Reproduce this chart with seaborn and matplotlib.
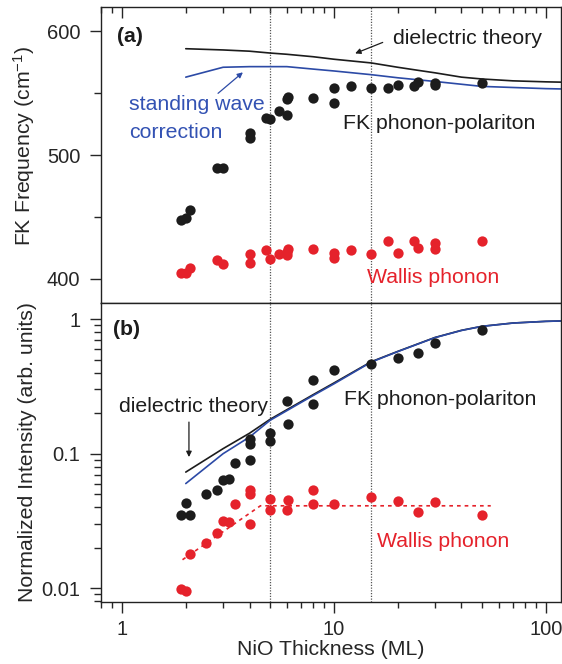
import matplotlib
matplotlib.use("Agg")
import matplotlib.pyplot as plt
import seaborn as sns
import numpy as np
from matplotlib.ticker import LogLocator, NullFormatter, FixedLocator, FixedFormatter, MultipleLocator

# ---------------- data ----------------
# (a) FK frequency
fk_freq_x = [1.9, 2.0, 2.1, 2.8, 3.0, 4.0, 4.0, 4.8, 5.0, 5.5, 6.0, 6.1, 6.0, 8.0, 10, 10, 12, 15, 18, 20, 24, 25, 30, 30, 50]
fk_freq_y = [447.6, 448.7, 455.7, 489.7, 489.7, 517.6, 513.9, 529.7, 529.4, 536.0, 532.5, 546.7, 545.0, 546.2,
             554.3, 541.8, 555.9, 554.3, 554.0, 556.4, 555.9, 559.4, 558.0, 556.4, 558.6]
wallis_freq_x = [1.9, 2.0, 2.1, 2.8, 3.0, 4.0, 4.0, 4.8, 5.0, 5.5, 6.0, 6.1, 6.0, 8.0, 10, 10, 12, 15, 18, 20, 24, 25, 30, 30, 50]
wallis_freq_y = [404.5, 404.5, 408.6, 415.3, 412.1, 420.2, 412.6, 423.4, 415.8, 420.2, 418.8, 424.2, 421.5, 423.7,
                 421.0, 416.7, 423.4, 420.2, 430.1, 421.0, 430.1, 424.7, 429.0, 424.2, 430.1]
diel_freq_x = [2, 3, 4, 5, 6, 8, 10, 15, 20, 25, 30, 40, 50, 70, 100, 130]
diel_freq_y = [586.0, 585.0, 584.0, 582.5, 581.5, 579.5, 577.5, 574.5, 571.0, 568.5, 566.5, 563.0, 561.5, 560.0, 559.2, 558.8]
sw_freq_x = [2, 3, 4, 5, 6, 8, 10, 15, 20, 30, 50, 100, 130]
sw_freq_y = [563.0, 571.0, 571.5, 571.5, 571.5, 569.5, 568.0, 565.0, 562.5, 559.5, 555.5, 553.7, 553.3]

# (b) normalized intensity
fk_int_x = [1.9, 2.0, 2.1, 2.5, 2.8, 3.0, 3.2, 3.4, 4, 4, 4, 5, 5, 6, 6.1, 8, 8, 10, 15, 20, 25, 30, 50]
fk_int_y = [0.0348, 0.043, 0.0352, 0.0499, 0.054, 0.0633, 0.0652, 0.0857, 0.0892, 0.1187, 0.129, 0.142, 0.124,
            0.246, 0.167, 0.355, 0.232, 0.416, 0.467, 0.517, 0.563, 0.668, 0.834]
wallis_int_x = [1.9, 2.0, 2.1, 2.5, 2.8, 3.0, 3.2, 3.4, 4, 4, 4, 5, 5, 6.1, 6, 8, 8, 10, 15, 20, 25, 30, 50]
wallis_int_y = [0.00993, 0.0095, 0.0179, 0.0218, 0.0257, 0.0316, 0.031, 0.042, 0.0534, 0.0499, 0.0298, 0.0463,
                0.0379, 0.045, 0.0379, 0.0534, 0.0425, 0.0425, 0.0476, 0.0444, 0.0368, 0.0435, 0.0348]
diel_int_x = [2, 3, 4, 5, 8, 10, 15, 20, 30, 40, 50, 70, 100, 130]
diel_int_y = [0.073, 0.109, 0.142, 0.180, 0.275, 0.335, 0.482, 0.575, 0.730, 0.825, 0.884, 0.935, 0.962, 0.972]
sw_int_x = [2, 3, 4, 5, 8, 10, 15, 20, 30, 40, 50, 70, 100, 130]
sw_int_y = [0.060, 0.100, 0.133, 0.177, 0.271, 0.330, 0.479, 0.573, 0.728, 0.823, 0.883, 0.934, 0.962, 0.972]
wallis_fit_x = [1.93, 4.5, 55]
wallis_fit_y = [0.0163, 0.041, 0.041]

guide_x = [5, 15]
x_ticks = [1, 10, 100]
x_tick_labels = ["1", "10", "100"]
freq_ticks = [400, 500, 600]
int_ticks = [0.01, 0.1, 1]
int_tick_labels = ["0.01", "0.1", "1"]

# ---------------- style ----------------
sns.set_theme(style="ticks")
plt.rcParams["font.family"] = ["Liberation Sans", "DejaVu Sans"]
plt.rcParams["mathtext.fontset"] = "custom"
plt.rcParams["mathtext.rm"] = "Liberation Sans"
plt.rcParams["mathtext.it"] = "Liberation Sans:italic"

BLACK = "#1c1c1c"
RED = "#e5222b"
BLUE = "#2c4aa6"
BLUE_TXT = "#3352b3"
FS = 15.3
TFS = 14.5

fig = plt.figure(figsize=(5.62, 6.64), dpi=100)
W, H = 562, 664
left, right = 101, 561
ya_top, mid, yb_bot = 6.7, 303.3, 601.7
ax_a = fig.add_axes([left / W, 1 - mid / H, (right - left) / W, (mid - ya_top) / H])
ax_b = fig.add_axes([left / W, 1 - yb_bot / H, (right - left) / W, (yb_bot - mid) / H], sharex=ax_a)

for ax in (ax_a, ax_b):
    ax.set_xscale("log")
    for s in ax.spines.values():
        s.set_linewidth(1.0)
        s.set_color("#222222")
ax_b.set_yscale("log")
ax_a.set_xlim(0.796, 118)
ax_a.set_ylim(380, 620)
ax_b.set_ylim(0.00795, 1.31)

# guide lines
for ax in (ax_a, ax_b):
    for gx in guide_x:
        ax.axvline(gx, color="#555555", lw=0.9, ls=(0, (1, 1.2)), zorder=1)

# ---- panel a ----
sns.lineplot(x=diel_freq_x, y=diel_freq_y, ax=ax_a, color=BLACK, lw=1.2, estimator=None, sort=False)
sns.lineplot(x=sw_freq_x, y=sw_freq_y, ax=ax_a, color=BLUE, lw=1.2, estimator=None, sort=False)
sns.scatterplot(x=fk_freq_x, y=fk_freq_y, ax=ax_a, color=BLACK, s=55, linewidth=0, zorder=3)
sns.scatterplot(x=wallis_freq_x, y=wallis_freq_y, ax=ax_a, color=RED, s=55, linewidth=0, zorder=3)

ax_a.text(0.947, 595.7, "(a)", fontsize=FS, fontweight="bold", ha="left", va="center", color=BLACK)
ax_a.text(19.0, 594.5, "dielectric theory", fontsize=FS, ha="left", va="center", color=BLACK)
ax_a.annotate("", xy=(12.6, 582.2), xytext=(17.0, 591.1),
              arrowprops=dict(arrowstyle="-|>", color=BLACK, lw=0.9, mutation_scale=8, shrinkA=0, shrinkB=0))
ax_a.text(1.079, 541.2, "standing wave", fontsize=FS, ha="left", va="center", color=BLUE_TXT)
ax_a.text(1.079, 518.6, "correction", fontsize=FS, ha="left", va="center", color=BLUE_TXT)
ax_a.annotate("", xy=(3.72, 566.9), xytext=(2.84, 549.9),
              arrowprops=dict(arrowstyle="-|>", color=BLUE, lw=0.9, mutation_scale=8, shrinkA=0, shrinkB=0))
ax_a.text(11.03, 525.8, "FK phonon-polariton", fontsize=FS, ha="left", va="center", color=BLACK)
ax_a.text(14.3, 400.6, "Wallis phonon", fontsize=FS, ha="left", va="center", color=RED)

ax_a.set_yticks(freq_ticks)
ax_a.yaxis.set_minor_locator(MultipleLocator(50))
ax_a.set_ylabel("FK Frequency (cm$^{-1}$)", fontsize=FS)
ax_a.yaxis.set_label_coords(-0.14, 0.53)

# ---- panel b ----
sns.lineplot(x=diel_int_x, y=diel_int_y, ax=ax_b, color=BLACK, lw=1.2, estimator=None, sort=False)
sns.lineplot(x=sw_int_x, y=sw_int_y, ax=ax_b, color=BLUE, lw=1.2, estimator=None, sort=False)
sns.lineplot(x=wallis_fit_x, y=wallis_fit_y, ax=ax_b, color=RED, lw=1.2, ls=(0, (2.2, 2.4)), estimator=None, sort=False)
sns.scatterplot(x=fk_int_x, y=fk_int_y, ax=ax_b, color=BLACK, s=55, linewidth=0, zorder=3)
sns.scatterplot(x=wallis_int_x, y=wallis_int_y, ax=ax_b, color=RED, s=55, linewidth=0, zorder=3)

ax_b.text(0.907, 0.839, "(b)", fontsize=FS, fontweight="bold", ha="left", va="center", color=BLACK)
ax_b.text(0.968, 0.2227, "dielectric theory", fontsize=FS, ha="left", va="center", color=BLACK)
ax_b.annotate("", xy=(2.07, 0.0944), xytext=(2.07, 0.1717),
              arrowprops=dict(arrowstyle="-|>", color=BLACK, lw=0.9, mutation_scale=8, shrinkA=0, shrinkB=0))
ax_b.text(11.14, 0.253, "FK phonon-polariton", fontsize=FS, ha="left", va="center", color=BLACK)
ax_b.text(15.95, 0.0223, "Wallis phonon", fontsize=FS, ha="left", va="center", color=RED)

ax_b.yaxis.set_major_locator(FixedLocator(int_ticks))
ax_b.yaxis.set_major_formatter(FixedFormatter(int_tick_labels))
ax_b.yaxis.set_minor_locator(LogLocator(base=10, subs=np.arange(2, 10), numticks=20))
ax_b.yaxis.set_minor_formatter(NullFormatter())
ax_b.set_ylabel("Normalized Intensity (arb. units)", fontsize=FS)
ax_b.yaxis.set_label_coords(-0.14, 0.5)

ax_b.xaxis.set_major_locator(FixedLocator(x_ticks))
ax_b.xaxis.set_major_formatter(FixedFormatter(x_tick_labels))
ax_b.xaxis.set_minor_locator(LogLocator(base=10, subs=np.arange(2, 10), numticks=20))
ax_b.xaxis.set_minor_formatter(NullFormatter())
ax_b.set_xlabel("NiO Thickness (ML)", fontsize=FS, labelpad=1)

# ticks
ax_a.tick_params(axis="y", which="major", direction="out", length=8, width=1.0, labelsize=TFS, pad=7, left=True, right=False)
ax_a.tick_params(axis="y", which="minor", direction="out", length=5, width=1.0, left=True, right=False)
ax_a.tick_params(axis="x", which="both", direction="in", top=True, bottom=False, labelbottom=False, labeltop=False, width=1.0)
ax_a.tick_params(axis="x", which="major", length=8)
ax_a.tick_params(axis="x", which="minor", length=4.5)

ax_b.tick_params(axis="y", which="major", direction="out", length=8, width=1.0, labelsize=TFS, pad=7, left=True, right=False)
ax_b.tick_params(axis="y", which="minor", direction="out", length=5, width=1.0, left=True, right=False)
ax_b.tick_params(axis="x", which="both", direction="out", bottom=True, top=False, labelsize=TFS, pad=5, width=1.0)
ax_b.tick_params(axis="x", which="major", length=8)
ax_b.tick_params(axis="x", which="minor", length=4.5)

for ax in (ax_a, ax_b):
    ax.set_facecolor("white")

fig.savefig("out.png", dpi=100, facecolor="white")
